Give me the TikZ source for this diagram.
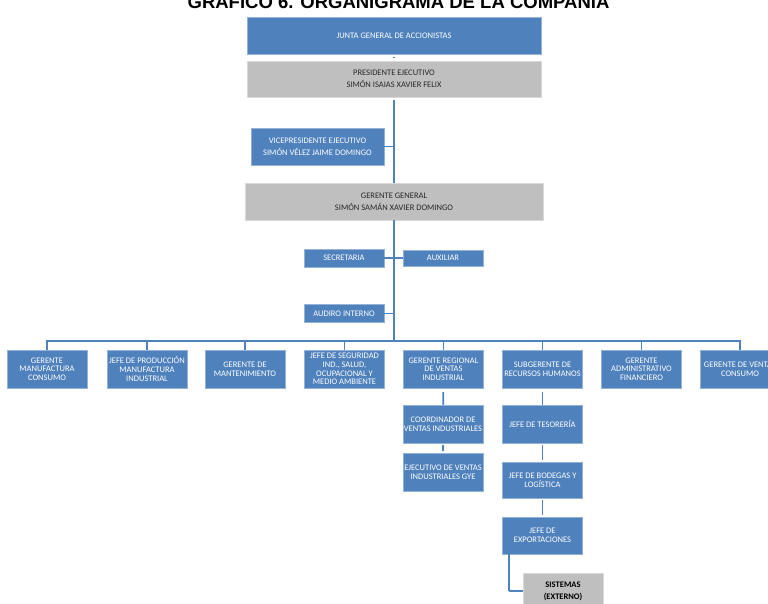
\documentclass[tikz,border=0pt]{standalone}
\usepackage{fontspec}
\setmainfont{Carlito}
\newfontfamily\titlefont{Liberation Sans}
\usepackage{tikz}
\definecolor{orgblue}{HTML}{4F81BD}
\definecolor{orggray}{HTML}{BFBFBF}

\begin{document}
\begin{tikzpicture}[x=1pt, y=-1pt,
    box/.style={rectangle, inner sep=0pt, align=center, font=\fontsize{8.5}{8.6}\selectfont},
    bluebox/.style={box, fill=orgblue, draw=orgblue!60!white, text=white},
    graybox/.style={box, fill=orggray, draw=orggray!60!white, text=black!85},
    topbox/.style={font=\fontsize{8.5}{12}\selectfont},
    unit/.style={bluebox, minimum width=80, minimum height=38},
    small/.style={bluebox, minimum width=80, minimum height=18},
    link/.style={draw=orgblue, line width=1.8pt}]
  \clip (0,0) rectangle (768,604);
  \fill[white] (0,0) rectangle (768,604);

  % title (cut at the top)
  \node[anchor=base, inner sep=0, font=\titlefont\bfseries\fontsize{18.5}{19}\selectfont] (title) at (398.5,9)
    {GRÁFICO 6. ORGANIGRAMA DE LA COMPAÑÍA};

  % top of the chart
  \node[bluebox, minimum width=294, minimum height=37] (junta) at (394,35.5) {JUNTA GENERAL DE ACCIONISTAS};
  \node[graybox, topbox, minimum width=294, minimum height=36] (presidente) at (394,79)
    {PRESIDENTE EJECUTIVO\\SIMÓN ISAIAS XAVIER FELIX};
  \node[bluebox, topbox, minimum width=133, minimum height=37] (vice) at (317.5,146.5)
    {VICEPRESIDENTE EJECUTIVO\\SIMÓN VÉLEZ JAIME DOMINGO};
  \node[graybox, topbox, minimum width=298, minimum height=37] (gerente) at (394,201.5)
    {GERENTE GENERAL\\SIMÓN SAMÁN XAVIER DOMINGO};

  % staff
  \node[small] (secretaria) at (344,258) {SECRETARIA};
  \node[small, minimum height=16] (auxiliar) at (443,258) {AUXILIAR};
  \node[small] (auditor) at (344,313.5) {AUDIRO INTERNO};
  \coordinate (bar) at (394,341);

  % second level
  \node[unit] (mfcons) at (47,369) {GERENTE\\MANUFACTURA\\CONSUMO};
  \node[unit] (prodind) at (147,369) {JEFE DE PRODUCCIÓN\\MANUFACTURA\\INDUSTRIAL};
  \node[unit] (mant) at (245,369) {GERENTE DE\\MANTENIMIENTO};
  \node[unit] (seguridad) at (344.5,369) {JEFE DE SEGURIDAD\\IND., SALUD,\\OCUPACIONAL Y\\MEDIO AMBIENTE};
  \node[unit] (regional) at (443.5,369) {GERENTE REGIONAL\\DE VENTAS\\INDUSTRIAL};
  \node[unit] (rrhh) at (542.5,369) {SUBGERENTE DE\\RECURSOS HUMANOS};
  \node[unit] (admfin) at (641.5,369) {GERENTE\\ADMINISTRATIVO\\FINANCIERO};
  \node[unit] (ventcons) at (740,369) {GERENTE DE VENTAS\\CONSUMO};

  % third level
  \node[unit] (coord) at (443,424) {COORDINADOR DE\\VENTAS INDUSTRIALES};
  \node[unit] (ejecutivo) at (443,472.5) {EJECUTIVO DE VENTAS\\INDUSTRIALES GYE};
  \node[unit] (tesoreria) at (542.5,424) {JEFE DE TESORERÍA};
  \node[unit, minimum height=36] (bodegas) at (542.5,480) {JEFE DE BODEGAS Y\\LOGÍSTICA};
  \node[unit, minimum height=37] (export) at (542.5,535.5) {JEFE DE\\EXPORTACIONES};
  \node[graybox, minimum width=80, minimum height=36, text=black, font=\bfseries\fontsize{8.5}{12}\selectfont] (sistemas) at (563,591)
    {SISTEMAS\\(EXTERNO)};

  % connectors
  \draw[link, shorten <=2.5pt, shorten >=2.5pt] (junta) -- (presidente);
  \draw[link, shorten <=3pt] (presidente.south) -- (gerente.north);
  \draw[link] (vice.east) -- (vice.east -| presidente.south);
  \draw[link] (gerente.south) -- (bar);
  \draw[link] (secretaria.east) -- (auxiliar.west);
  \draw[link] (auditor.east) -- (auditor.east -| bar);
  \foreach \n in {mfcons,prodind,mant,seguridad,regional,rrhh,admfin,ventcons}
    \draw[link] (\n.north) |- (bar);
  \draw[link, shorten <=4pt] (regional) -- (coord);
  \draw[link, shorten <=2pt, shorten >=2pt] (coord) -- (ejecutivo);
  \draw[link, shorten <=4pt] (rrhh) -- (tesoreria);
  \draw[link, shorten <=2pt, shorten >=2pt] (tesoreria) -- (bodegas);
  \draw[link, shorten <=2pt, shorten >=2pt] (bodegas) -- (export);
  \draw[link, rounded corners=1pt] ([xshift=-33.5pt]export.south) |- (sistemas.west);
\end{tikzpicture}
\end{document}
